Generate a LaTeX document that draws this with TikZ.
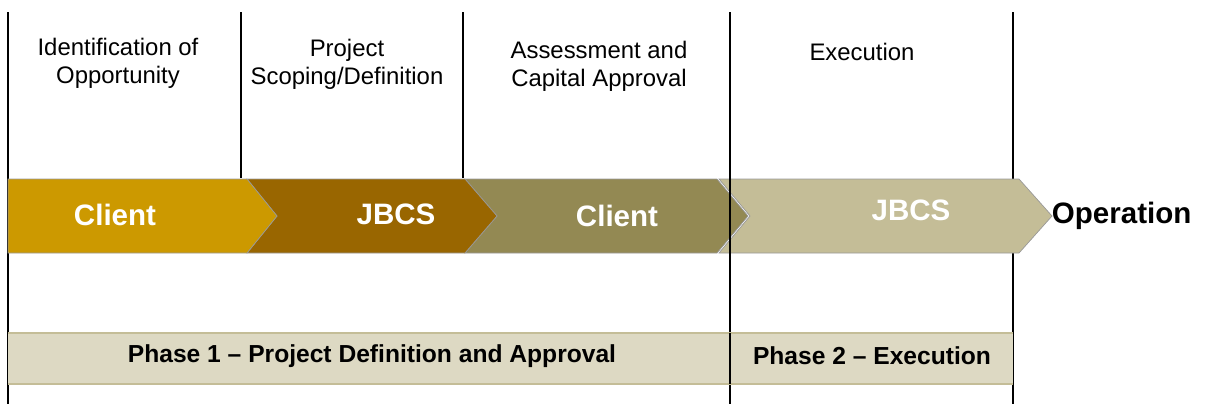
\documentclass[tikz,border=0pt]{standalone}
\usepackage{fontspec}
\setmainfont{Liberation Sans}
\usepackage{tikz}
\definecolor{gold}{HTML}{CC9900}
\definecolor{bronze}{HTML}{996600}
\definecolor{olive}{HTML}{938953}
\definecolor{khaki}{HTML}{C4BD97}
\definecolor{sand}{HTML}{DDD9C3}
\tikzset{
    chev/.style={draw=gray!80, line width=0.5pt},
    chevtext/.style={text=white, font=\fontsize{21}{24}\selectfont\bfseries},
    head/.style={align=center, font=\fontsize{17}{20}\selectfont},
    phase/.style={font=\fontsize{17.5}{20}\selectfont\bfseries},
    divider/.style={line width=1.2pt},
}

\begin{document}
\begin{tikzpicture}[x=0.025cm, y=-0.025cm]
    \useasboundingbox (0,0) rectangle (1205,404);
    % column lines
    \coordinate (l0) at (8,12);
    \coordinate (l0b) at (8,404);
    \draw[divider] (l0) -- (l0b);
    \draw[divider] (241,12) -- (241,178);
    \draw[divider] (463,12) -- (463,178);
    \draw[divider] (1013,12) -- (1013,404);
    % headings
    \node[head] (h1) at (118,63) {Identification of\\Opportunity};
    \node[head] (h2) at (347,64) {Project\\Scoping/Definition};
    \node[head] (h3) at (599,66) {Assessment and\\Capital Approval};
    \node[head] (h4) at (862,52) {Execution};
    % chevrons, right one first
    \draw[chev, fill=khaki] (719,179) -- (1019,179) -- (1052,216) -- (1019,253) -- (719,253) -- (750,216) -- cycle;
    \draw[chev, fill=olive] (465,179) -- (717,179) -- (748,216) -- (717,253) -- (465,253) -- (497,216) -- cycle;
    \draw[chev, fill=bronze] (247,179) -- (465,179) -- (497,216) -- (465,253) -- (247,253) -- (277,216) -- cycle;
    \draw[chev, fill=gold] (8,179) -- (247,179) -- (277,216) -- (247,253) -- (8,253) -- cycle;
    \node[chevtext] (c1) at (115,215) {Client};
    \node[chevtext] (c2) at (396,214) {JBCS};
    \node[chevtext] (c3) at (617,216) {Client};
    \node[chevtext] (c4) at (911,210) {JBCS};
    \node[chevtext, text=black, anchor=west] (op) at (1047,216) {Operation};
    \draw[divider] (730,12) -- (730,404);
    % phase bar
    \fill[sand] (8,333) rectangle (1013,384);
    \draw[khaki, line width=2pt] (8,333) -- (1013,333) (8,384) -- (1013,384);
    \draw[divider] (730,333) -- (730,384);
    \node[phase] (p1) at (372,356) {Phase 1 – Project Definition and Approval};
    \node[phase] (p2) at (872,356) {Phase 2 – Execution};
\end{tikzpicture}
\end{document}
